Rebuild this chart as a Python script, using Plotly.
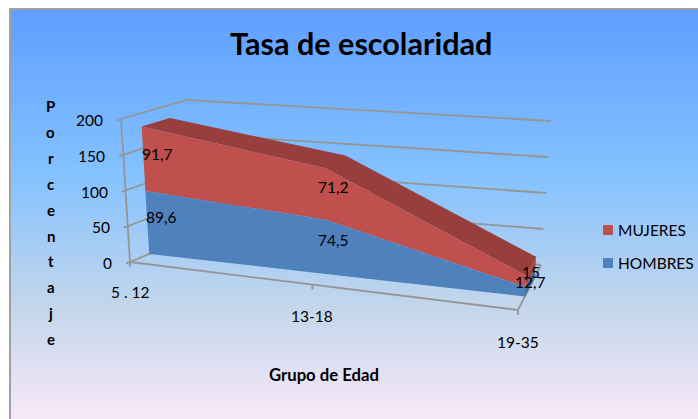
import numpy as np
import plotly.graph_objects as go

# ---- data ----
categories = ["5 . 12", "13-18", "19-35"]
hombres = [89.6, 74.5, 12.7]
mujeres = [91.7, 71.2, 15.0]
hombres_labels = ["89,6", "74,5", "12,7"]
mujeres_labels = ["91,7", "71,2", "15"]
y_ticks = [0, 50, 100, 150, 200]
title_text = "Tasa de escolaridad"
x_title = "Grupo de Edad"
y_title = "Porcentaje"
series_names = ["MUJERES", "HOMBRES"]

# ---- style ----
FONT = "Lato"
RED, RED_TOP, RED_SIDE = "#C0504D", "#983F3D", "#A4443F"
BLUE, BLUE_SIDE = "#4F81BD", "#3F6A9E"
AXIS = "#959595"
STOPS = [[0, "#5E9EFF"], [0.39, "#85C2FF"], [0.70, "#C4D6EB"], [1, "#FFEBFA"]]

# ---- 3D box as seen in the picture (front/back, left/right, bottom/top) ----
BOX = {
    (0, 0, 0): (130, 262), (0, 0, 1): (121, 119),
    (0, 1, 0): (194, 235), (0, 1, 1): (187, 100),
    (1, 0, 0): (518, 310), (1, 0, 1): (526, 157),
    (1, 1, 0): (541, 265), (1, 1, 1): (551, 121),
}
CAT_POS = [0.0, 0.47, 1.0]
DEPTH_FRONT, DEPTH_BACK, DEPTH_MID = 0.30, 0.73, 0.515
Y_MAX = 200.0


def project(u, w, value):
    """Trilinear projection: category position u, depth w, axis value -> picture point."""
    h = value / Y_MAX
    px = py = 0.0
    for iu, fu in ((0, 1 - u), (1, u)):
        for iw, fw in ((0, 1 - w), (1, w)):
            for ih, fh in ((0, 1 - h), (1, h)):
                c = BOX[(iu, iw, ih)]
                px += fu * fw * fh * c[0]
                py += fu * fw * fh * c[1]
    return px, py


def poly(points, color, name):
    xs, ys = zip(*points)
    return go.Scatter(x=list(xs) + [xs[0]], y=list(ys) + [ys[0]], mode="lines", fill="toself",
                      fillcolor=color, line=dict(width=0), hoverinfo="skip",
                      name=name, showlegend=False)


def seg(a, b, width=1.8):
    return go.Scatter(x=[a[0], b[0]], y=[a[1], b[1]], mode="lines",
                      line=dict(color=AXIS, width=width), hoverinfo="skip", showlegend=False)


base = [0.0] * 3
stack1 = list(hombres)
stack2 = [a + b for a, b in zip(hombres, mujeres)]

fig = go.Figure()

# chart-area gradient
grad_edges = np.arange(9, 420)
H_TOTAL = 436.0
fig.add_trace(go.Heatmap(x=[10, 698], y=grad_edges,
                         z=[[(v + 0.5 - 9) / (H_TOTAL - 9)] for v in grad_edges[:-1]],
                         zmin=0, zmax=1, colorscale=STOPS, showscale=False, hoverinfo="skip"))

# walls and floor
for t in y_ticks:
    a = project(0, 0, t)
    b = project(0, 1, t)
    c = project(1, 1, t)
    fig.add_trace(go.Scatter(x=[a[0] - 4, a[0], b[0], c[0]],
                             y=[a[1] + 1.3, a[1], b[1], c[1]], mode="lines",
                             line=dict(color=AXIS, width=1.8), hoverinfo="skip", showlegend=False))
fig.add_trace(seg(project(0, 0, 0), project(0, 0, Y_MAX)))
fig.add_trace(seg(project(0, 0, 0), project(1, 0, 0)))
fig.add_trace(seg(project(1, 0, 0), project(1, 1, 0)))
for u in CAT_POS:
    p = project(u, 0, 0)
    fig.add_trace(seg(p, (p[0], p[1] + 5)))

# stacked 3D areas
front = lambda s: [project(u, DEPTH_FRONT, v) for u, v in zip(CAT_POS, s)]
back = lambda s: [project(u, DEPTH_BACK, v) for u, v in zip(CAT_POS, s)]

fig.add_trace(poly(front(stack2) + back(stack2)[::-1], RED_TOP, "MUJERES top"))
fig.add_trace(poly([front(stack1)[-1], back(stack1)[-1], back(stack2)[-1], front(stack2)[-1]], RED_SIDE, "MUJERES side"))
fig.add_trace(poly([front(base)[-1], back(base)[-1], back(stack1)[-1], front(stack1)[-1]], BLUE_SIDE, "HOMBRES side"))
fig.add_trace(poly(front(stack2) + front(stack1)[::-1], RED, series_names[0]))
fig.add_trace(poly(front(stack1) + front(base)[::-1], BLUE, series_names[1]))

annotations = []


def label(x, y, text, size=15.5, bold=False, anchor="center", color="#000000"):
    annotations.append(dict(x=x, y=y, xref="x", yref="y", text=f"<b>{text}</b>" if bold else text,
                            showarrow=False, xanchor=anchor, yanchor="middle",
                            font=dict(family=FONT, size=size, color=color)))


# data labels, centred in the band at mid-depth
for i, u in enumerate(CAT_POS):
    dx = -2 if i == 1 else 0
    p = project(u, DEPTH_MID, hombres[i] / 2)
    label(p[0] + dx, p[1], hombres_labels[i])
    p = project(u, DEPTH_MID, hombres[i] + mujeres[i] / 2)
    label(p[0] + dx, p[1], mujeres_labels[i])

# axis tick labels
for t in y_ticks:
    p = project(0, 0, t)
    label(p[0] - 16, p[1] + 1, str(t), anchor="right")
for i, u in enumerate(CAT_POS):
    p = project(u, 0, 0)
    label(p[0], p[1] + 30 + 2 * u, categories[i])

# titles
label(361, 43.5, title_text, size=30.6, bold=True)
label(324, 375, x_title, size=16.7, bold=True)
for i, ch in enumerate(y_title):
    label(50.5, 106 + i * 25.9, ch, size=15, bold=True)

# legend
shapes = []
for name, color, y in zip(series_names, [RED, BLUE], [230, 263]):
    shapes.append(dict(type="rect", xref="x", yref="y", x0=603, x1=613, y0=y - 5, y1=y + 5,
                       fillcolor=color, line=dict(width=0)))
    label(616, y - 0.5, name, anchor="left")

# chart frame (left and top edges)
shapes.append(dict(type="line", xref="x", yref="y", x0=10, x1=10, y0=9, y1=419, line=dict(color="#A0A0A0", width=2)))
shapes.append(dict(type="line", xref="x", yref="y", x0=9, x1=698, y0=9, y1=9, line=dict(color="#A0A0A0", width=2)))

fig.update_layout(
    width=698, height=419, margin=dict(l=0, r=0, t=0, b=0),
    paper_bgcolor="white", plot_bgcolor="white", showlegend=False,
    annotations=annotations, shapes=shapes,
    xaxis=dict(range=[0, 698], visible=False, fixedrange=True),
    yaxis=dict(range=[419, 0], visible=False, fixedrange=True),
)
fig.write_html("out.html", config=dict(displayModeBar=False),
               post_script="document.body.style.margin='0';document.documentElement.style.overflow='hidden';")
